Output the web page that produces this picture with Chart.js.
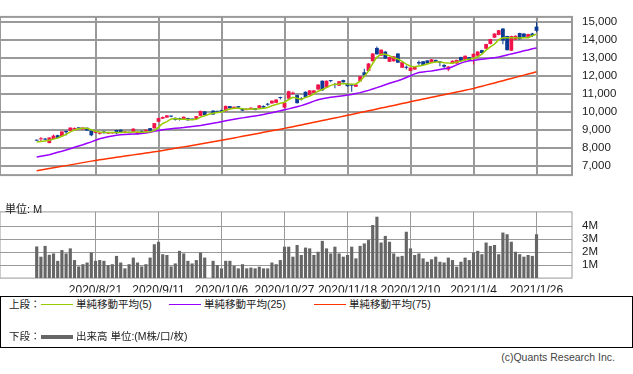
<!DOCTYPE html>
<html lang="ja">
<head>
<meta charset="utf-8">
<title>株価チャート</title>
<script src="https://cdn.jsdelivr.net/npm/chart.js@4.4.1/dist/chart.umd.min.js"></script>
<style>
    body { margin: 0; background: #fff; width: 633px; height: 374px; overflow: hidden; position: relative;
           font-family: 'Liberation Sans', 'Noto Sans CJK JP', sans-serif; color: #222; }
    #priceCanvas { position: absolute; left: 0; top: 0; }
    #volumeCanvas { position: absolute; left: 0; top: 195px; }
    .unit { position: absolute; left: 5px; top: 203px; font-size: 11px; line-height: 13px; }
    .legend { position: absolute; left: 0; top: 296px; width: 631px; height: 50px; border: 1px solid #000; }
    .legend span { position: absolute; font-size: 10.5px; line-height: 13px; white-space: nowrap; }
    .legend i { position: absolute; display: block; }
    .copy { position: absolute; right: 18px; top: 351px; font-size: 10.5px; color: #444; }
</style>
</head>
<body>
<canvas id="priceCanvas" width="633" height="192"></canvas>
<canvas id="volumeCanvas" width="633" height="100"></canvas>
<div class="unit">単位: M</div>
<div class="legend">
    <span style="left:8px;top:1px">上段：</span>
    <i style="left:40px;top:7px;width:32px;height:1px;background:#99cc00"></i>
    <span style="left:75px;top:1px">単純移動平均(5)</span>
    <i style="left:168px;top:7px;width:32px;height:1px;background:#9900ff"></i>
    <span style="left:203px;top:1px">単純移動平均(25)</span>
    <i style="left:313px;top:7px;width:32px;height:1px;background:#ff3300"></i>
    <span style="left:348px;top:1px">単純移動平均(75)</span>
    <span style="left:8px;top:33px">下段：</span>
    <i style="left:40px;top:38px;width:32px;height:4px;background:#666"></i>
    <span style="left:75px;top:33px">出来高 単位:(M株/口/枚)</span>
</div>
<div class="copy">(c)Quants Research Inc.</div>

<script>
// 日足 2020/7/31 - 2021/1/26 (index 41 = 2020/10/1 売買停止)
const openP = [8410, 8470, 8470, 8260, 8490, 8700, 8650, 8938, 8938, 9040,
    9105, 9020, 9110, 8954, 8830, 8775, 8900, 8790, 8800, 8985,
    9000, 8830, 8880, 8877, 8770, 8923, 8907, 9090, 9077, 9446,
    9617, 9677, 9750, 9661, 9610, 9585, 9646, 9580, 9585, 9769,
    10015, null, 10061, 10010, 10092, 10031, 10308, 10200, 10308, 10185,
    10092, 10138, 10200, 10200, 10323, 10410, 10461, 10492, 10780, 10231,
    10725, 10990, 10923, 10720, 11108, 10923, 11047, 11233, 11722, 11339,
    11720, 11520, 11445, 11755, 11570, 11524, 11386, 11695, 12190, 12262,
    12800, 13540, 13110, 13340, 12770, 12800, 13232, 12440, 12493, 12262,
    12340, 12756, 12800, 12849, 12723, 12877, 12800, 12600, 12340, 12677,
    12678, 13030, 12877, 13030, 13034, 13108, 13420, 13494, 13756, 14108,
    14262, 14617, 14200, 13386, 14000, 14370, 14340, 14155, 14340, 14723];
const highP = [8450, 8600, 8540, 8590, 8740, 8720, 8920, 8950, 9130, 9130,
    9130, 9140, 9120, 8960, 8960, 8860, 8950, 8880, 8860, 9000,
    9020, 8920, 8900, 9080, 8900, 8960, 9020, 9100, 9380, 9660,
    9740, 9820, 9790, 9680, 9660, 9740, 9660, 9620, 9770, 10060,
    10030, null, 10080, 10060, 10110, 10340, 10320, 10290, 10320, 10200,
    10180, 10240, 10210, 10370, 10340, 10480, 10630, 10690, 10830, 10510,
    11160, 11120, 10940, 10800, 11120, 11200, 11200, 11520, 11740, 11740,
    11760, 11600, 11710, 11770, 11590, 11560, 11520, 11990, 12380, 12700,
    13250, 13620, 13460, 13360, 13050, 13090, 13250, 12770, 12560, 12460,
    12540, 12840, 12820, 12860, 12920, 12890, 12820, 12640, 12520, 12850,
    12890, 13050, 13120, 13040, 13230, 13360, 13440, 13770, 14050, 14360,
    14540, 14630, 14220, 14220, 14230, 14390, 14360, 14330, 14390, 15000];
const lowP = [8370, 8370, 8400, 8250, 8480, 8530, 8640, 8676, 8930, 8980,
    9050, 9010, 8940, 8640, 8810, 8740, 8790, 8780, 8780, 8760,
    8840, 8810, 8800, 8860, 8750, 8780, 8890, 8920, 9070, 9430,
    9600, 9660, 9700, 9520, 9520, 9570, 9510, 9530, 9570, 9750,
    9800, null, 9830, 9950, 9990, 10020, 10170, 10190, 10220, 10040,
    10080, 10130, 10080, 10190, 10220, 10330, 10450, 10480, 10680, 10200,
    10700, 10960, 10460, 10620, 10780, 10910, 11030, 11220, 11170, 11320,
    11640, 11300, 11430, 11620, 11400, 11108, 11370, 11680, 11960, 12250,
    12790, 13170, 13100, 12940, 12760, 12790, 12710, 12430, 12340, 12250,
    12330, 12600, 12560, 12660, 12710, 12760, 12520, 12420, 12250, 12660,
    12660, 12810, 12860, 12800, 12618, 13090, 13220, 13480, 13740, 14090,
    14250, 13750, 13400, 13370, 13990, 13990, 14140, 14080, 14150, 14418];
const closeP = [8395, 8490, 8455, 8569, 8675, 8540, 8906, 8860, 9124, 9100,
    9080, 9124, 8954, 8692, 8923, 8830, 8810, 8870, 8840, 8800,
    8860, 8906, 8815, 9063, 8877, 8800, 9000, 8938, 9368, 9645,
    9709, 9800, 9730, 9554, 9590, 9723, 9523, 9565, 9754, 10046,
    9815, null, 9846, 9995, 10000, 10323, 10185, 10277, 10230, 10061,
    10170, 10230, 10092, 10354, 10230, 10390, 10615, 10677, 10760, 10494,
    11140, 11060, 10476, 10690, 10800, 11185, 11185, 11510, 11185, 11722,
    11700, 11490, 11693, 11630, 11417, 11447, 11510, 11970, 12030, 12677,
    13232, 13186, 13447, 12955, 13033, 13079, 12724, 12750, 12440, 12447,
    12525, 12680, 12600, 12678, 12908, 12770, 12720, 12500, 12508, 12830,
    12877, 12830, 13108, 12877, 13216, 13340, 13260, 13756, 14033, 14340,
    14524, 13956, 13417, 14200, 14216, 14030, 14155, 14308, 14200, 14493];

const ma5 = [8320, 8350, 8380, 8420, 8480, 8540, 8640, 8740, 8880, 8990,
    9060, 9090, 9080, 9000, 8920, 8880, 8860, 8850, 8845, 8850,
    8850, 8860, 8855, 8870, 8870, 8865, 8880, 8890, 8950, 9150,
    9350, 9450, 9600, 9620, 9590, 9585, 9570, 9560, 9580, 9700,
    9780, 9860, 9920, 9960, 9990, 10080, 10150, 10190, 10200, 10160,
    10140, 10150, 10150, 10170, 10200, 10240, 10330, 10400, 10470, 10530,
    10679, 10800, 10753, 10679, 10800, 10877, 10985, 11139, 11232, 11339,
    11463, 11524, 11540, 11570, 11540, 11524, 11540, 11694, 11953, 12262,
    12677, 13033, 13186, 13186, 13110, 12987, 12923, 12800, 12646, 12525,
    12493, 12540, 12585, 12650, 12723, 12754, 12754, 12723, 12700, 12692,
    12760, 12800, 12877, 12920, 12954, 13050, 13200, 13417, 13600, 13756,
    14000, 14100, 14108, 14108, 14108, 14093, 14100, 14108, 14215, 14308];
const ma25 = [7493, 7530, 7570, 7613, 7680, 7750, 7810, 7876, 7950, 8030,
    8100, 8170, 8250, 8330, 8420, 8500, 8560, 8610, 8650, 8690,
    8720, 8735, 8750, 8760, 8770, 8790, 8820, 8860, 8910, 8960,
    9000, 9030, 9060, 9080, 9100, 9120, 9150, 9180, 9210, 9240,
    9280, 9320, 9360, 9400, 9450, 9500, 9540, 9580, 9620, 9660,
    9700, 9740, 9770, 9800, 9850, 9900, 9950, 10000, 10050, 10106,
    10160, 10220, 10280, 10340, 10420, 10500, 10590, 10670, 10720, 10760,
    10800, 10830, 10860, 10890, 10923, 10960, 11010, 11060, 11120, 11185,
    11260, 11340, 11417, 11500, 11580, 11650, 11720, 11800, 11900, 12000,
    12100, 12180, 12210, 12240, 12262, 12300, 12340, 12380, 12415, 12500,
    12600, 12700, 12780, 12830, 12849, 12880, 12910, 12940, 12970, 13000,
    13033, 13090, 13150, 13210, 13264, 13320, 13380, 13430, 13490, 13541];
const ma75 = [6722, 6763, 6805, 6846, 6888, 6929, 6970, 7010, 7052, 7093,
    7135, 7176, 7218, 7259, 7300, 7334, 7368, 7402, 7436, 7470,
    7504, 7538, 7572, 7606, 7640, 7674, 7708, 7742, 7776, 7810,
    7850, 7890, 7930, 7970, 8010, 8050, 8090, 8130, 8170, 8210,
    8250, 8290, 8330, 8375, 8416, 8460, 8504, 8548, 8592, 8636,
    8680, 8724, 8768, 8812, 8856, 8900, 8944, 8988, 9032, 9077,
    9125, 9173, 9221, 9270, 9318, 9366, 9414, 9462, 9510, 9558,
    9606, 9654, 9702, 9750, 9802, 9852, 9902, 9952, 10002, 10052,
    10102, 10152, 10202, 10252, 10302, 10352, 10402, 10452, 10502, 10555,
    10604, 10653, 10702, 10751, 10800, 10849, 10898, 10947, 10996, 11045,
    11094, 11143, 11192, 11241, 11293, 11355, 11416, 11478, 11539, 11600,
    11662, 11723, 11785, 11846, 11908, 11970, 12031, 12093, 12154, 12216];

// 出来高 (百万)
const volume = [2.44, 1.65, 2.48, 1.80, 1.90, 1.33, 2.16, 1.90, 2.29, 1.39,
    0.90, 1.07, 1.20, 1.97, 1.33, 1.39, 1.33, 1.00, 1.07, 1.71,
    1.20, 0.75, 1.07, 1.58, 1.20, 0.90, 1.07, 1.58, 2.61, 2.80,
    1.84, 1.78, 0.90, 1.13, 2.10, 1.90, 1.33, 1.13, 1.39, 1.97,
    1.58, null, 1.33, 1.00, 0.75, 1.33, 1.33, 0.94, 0.75, 1.07,
    0.75, 0.81, 0.75, 0.88, 0.75, 0.75, 1.20, 1.07, 1.39, 2.42,
    2.42, 1.65, 2.55, 1.78, 2.35, 2.29, 1.78, 2.03, 2.87, 2.29,
    1.90, 2.42, 1.90, 1.65, 1.78, 2.42, 1.52, 2.48, 2.67, 2.93,
    4.09, 4.73, 2.74, 3.25, 2.80, 1.90, 1.65, 1.71, 3.57, 2.29,
    1.78, 1.90, 1.52, 1.26, 1.45, 1.65, 1.26, 1.20, 1.58, 1.39,
    0.88, 1.26, 1.58, 1.39, 1.97, 2.10, 1.84, 2.74, 2.48, 2.55,
    1.84, 3.51, 3.38, 2.80, 2.03, 1.84, 1.65, 1.78, 1.71, 3.38];

// x軸の目盛り (データ index と日付)
const tickIndex = [14, 29, 44, 59, 74, 89, 104, 119];
const tickLabels = ['2020/8/21', '2020/9/11', '2020/10/6', '2020/10/27',
    '2020/11/18', '2020/12/10', '2021/1/4', '2021/1/26'];
const priceTicks = [7000, 8000, 9000, 10000, 11000, 12000, 13000, 14000, 15000];
const volumeTicks = [1, 2, 3, 4];

const UP = '#f0144b';
const DOWN = '#0b3a94';
const GRID = '#9a9a9a';
const X_MIN = -8.74;
const X_MAX = 127.45;

Chart.defaults.font.family = "'Liberation Sans', 'Noto Sans CJK JP', sans-serif";
Chart.defaults.color = '#222';

// 枠線
const framePlugin = {
    id: 'frame',
    beforeDatasetsDraw(chart, args, opts) {
        const { ctx, chartArea: a } = chart;
        ctx.save();
        ctx.strokeStyle = opts.color;
        ctx.lineWidth = opts.width;
        ctx.strokeRect(a.left, a.top, a.right - a.left, a.bottom - a.top);
        ctx.restore();
    }
};

const points = (arr, fn) => arr.map((v, i) => (v === null ? null : { x: i, y: fn ? fn(i) : v }))
    .filter(p => p !== null);

const candleColor = closeP.map((c, i) => (c !== null && c >= openP[i] ? UP : DOWN))
    .filter((c, i) => openP[i] !== null);

function lineSet(data, color) {
    return {
        type: 'line',
        data: points(data),
        borderColor: color,
        borderWidth: 1.5,
        pointRadius: 0,
        tension: 0,
        order: 0
    };
}

function xScale(showLabels) {
    return {
        type: 'linear',
        min: X_MIN,
        max: X_MAX,
        offset: false,
        grid: { color: GRID, lineWidth: showLabels ? 1 : 2, drawTicks: false, offset: false },
        border: { display: false },
        afterBuildTicks: s => { s.ticks = tickIndex.map(v => ({ value: v })); },
        ticks: {
            display: showLabels,
            autoSkip: false,
            maxRotation: 0,
            padding: 5,
            font: { size: 12 },
            color: '#222',
            callback: v => tickLabels[tickIndex.indexOf(v)] || ''
        },
        afterFit: s => { s.height = showLabels ? 14.5 : 0; }
    };
}

new Chart(document.getElementById('priceCanvas'), {
    type: 'bar',
    data: {
        datasets: [
            lineSet(ma5, '#99cc00'),
            lineSet(ma25, '#9900ff'),
            lineSet(ma75, '#ff3300'),
            {
                data: points(openP, i => [openP[i], closeP[i]]),
                backgroundColor: candleColor,
                grouped: false,
                barPercentage: 0.95,
                categoryPercentage: 1,
                maxBarThickness: 3.8,
                minBarLength: 1,
                order: 1
            },
            {
                data: points(openP, i => [lowP[i], highP[i]]),
                backgroundColor: candleColor,
                grouped: false,
                barPercentage: 0.9,
                categoryPercentage: 1,
                maxBarThickness: 1,
                order: 2
            }
        ]
    },
    options: {
        responsive: false,
        animation: false,
        layout: { padding: { top: 0, bottom: 1.5, left: 0, right: 0 } },
        plugins: { legend: { display: false }, tooltip: { enabled: false }, frame: { color: GRID, width: 2 } },
        scales: {
            x: xScale(false),
            y: {
                position: 'right',
                min: 6484,
                max: 15263,
                grid: { color: GRID, lineWidth: 2, drawTicks: false },
                border: { display: false },
                afterBuildTicks: s => { s.ticks = priceTicks.map(v => ({ value: v })); },
                ticks: {
                    padding: 10,
                    font: { size: 11.5 },
                    color: '#222',
                    callback: v => v.toLocaleString('en-US')
                },
                afterFit: s => { s.width = 61; }
            }
        }
    },
    plugins: [framePlugin]
});

new Chart(document.getElementById('volumeCanvas'), {
    type: 'bar',
    data: {
        datasets: [{
            data: points(volume),
            backgroundColor: '#666666',
            barPercentage: 0.75,
            categoryPercentage: 1,
            maxBarThickness: 3.2
        }]
    },
    options: {
        responsive: false,
        animation: false,
        layout: { padding: { top: 6, bottom: 0, left: 0, right: 0 } },
        plugins: { legend: { display: false }, tooltip: { enabled: false }, frame: { color: GRID, width: 1 } },
        scales: {
            x: xScale(true),
            y: {
                position: 'right',
                min: 0,
                max: 5.1,
                grid: { color: GRID, lineWidth: 1, drawTicks: false },
                border: { display: false },
                afterBuildTicks: s => { s.ticks = volumeTicks.map(v => ({ value: v })); },
                ticks: {
                    padding: 10,
                    font: { size: 11.5 },
                    color: '#222',
                    callback: v => v + 'M'
                },
                afterFit: s => { s.width = 61; }
            }
        }
    },
    plugins: [framePlugin]
});
</script>
</body>
</html>
